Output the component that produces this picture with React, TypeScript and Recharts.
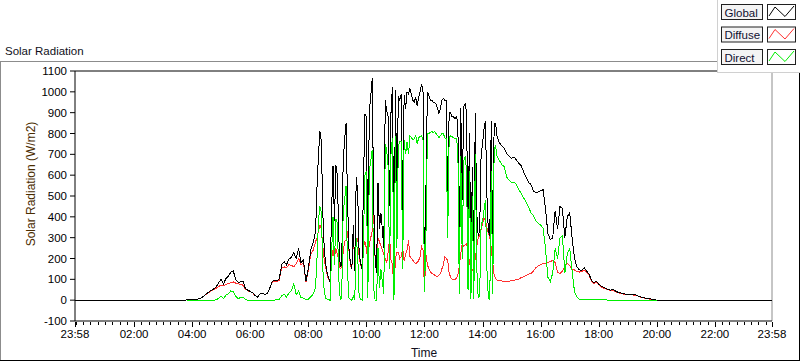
import React from "react";
import { LineChart, Line, XAxis, YAxis, ReferenceLine } from "recharts";

// ---------- data ----------
// sample times (HH:MM) of the measured day
const times: string[] = [
  // 03:45 – 08:15, 5-min
  "03:45","03:50","03:55",
  "04:00","04:05","04:10","04:15","04:20","04:25","04:30","04:35","04:40","04:45","04:50","04:55",
  "05:00","05:05","05:10","05:15","05:20","05:25","05:30","05:35","05:40","05:45","05:50","05:55",
  "06:00","06:05","06:10","06:15","06:20","06:25","06:30","06:35","06:40","06:45","06:50","06:55",
  "07:00","07:05","07:10","07:15","07:20","07:25","07:30","07:35","07:40","07:45","07:50","07:55",
  "08:00","08:05","08:10","08:15",
  // 08:18 – 14:30, 3-min
  "08:18","08:21","08:24","08:27","08:30","08:33","08:36","08:39","08:42","08:45","08:48","08:51","08:54","08:57",
  "09:00","09:03","09:06","09:09","09:12","09:15","09:18","09:21","09:24","09:27","09:30","09:33","09:36","09:39","09:42","09:45","09:48","09:51","09:54","09:57",
  "10:00","10:03","10:06","10:09","10:12","10:15","10:18","10:21","10:24","10:27","10:30","10:33","10:36","10:39","10:42","10:45","10:48","10:51","10:54","10:57",
  "11:00","11:03","11:06","11:09","11:12","11:15","11:18","11:21","11:24","11:27","11:30","11:33","11:36","11:39","11:42","11:45","11:48","11:51","11:54","11:57",
  "12:00","12:03","12:06","12:09","12:12","12:15","12:18","12:21","12:24","12:27","12:30","12:33","12:36","12:39","12:42","12:45","12:48","12:51","12:54","12:57",
  "13:00","13:03","13:06","13:09","13:12","13:15","13:18","13:21","13:24","13:27","13:30","13:33","13:36","13:39","13:42","13:45","13:48","13:51","13:54","13:57",
  "14:00","14:03","14:06","14:09","14:12","14:15","14:18","14:21","14:24","14:27","14:30",
  // 14:35 – 20:00, 5-min
  "14:35","14:40","14:45","14:50","14:55",
  "15:00","15:05","15:10","15:15","15:20","15:25","15:30","15:35","15:40","15:45","15:50","15:55",
  "16:00","16:05","16:10","16:15","16:20","16:25","16:30","16:35","16:40","16:45","16:50","16:55",
  "17:00","17:05","17:10","17:15","17:20","17:25","17:30","17:35","17:40","17:45","17:50","17:55",
  "18:00","18:05","18:10","18:15","18:20","18:25","18:30","18:35","18:40","18:45","18:50","18:55",
  "19:00","19:05","19:10","19:15","19:20","19:25","19:30","19:35","19:40","19:45","19:50","19:55",
  "20:00",
];

const globalRad: number[] = [
  0, 2, 3,
  3, 4, 5, 6, 12, 22, 32, 40, 48, 55, 65, 85,
  100, 78, 105, 115, 135, 140, 100, 85, 88, 92, 55, 48,
  42, 36, 22, 15, 30, 32, 28, 32, 55, 88, 96, 94,
  102, 170, 185, 170, 198, 205, 228, 200, 248, 180, 192, 90,
  150, 240, 275, 330,
  540, 700, 810, 760, 420, 240, 175, 130, 105, 85, 420, 645, 380, 650,
  600, 300, 160, 170, 660, 770, 850, 480, 250, 180, 150, 360, 140, 590, 520, 230, 180, 150, 560, 895,
  880, 200, 900, 980, 1064, 480, 200, 130, 560, 340, 420, 340, 250, 960, 910, 880, 450, 920, 1024, 40,
  1008, 500, 980, 960, 990, 400, 985, 920, 1000, 990, 1016, 985, 960, 952, 975, 930, 975, 1000, 1037, 1000,
  55, 520, 1000, 985, 960, 960, 950, 950, 940, 920, 896, 920, 960, 968, 960, 960, 460, 900, 900, 880,
  880, 870, 880, 850, 200, 920, 480, 930, 944, 900, 300, 800, 160, 640, 170, 900, 420, 310, 330, 700,
  750, 820, 860, 500, 330, 310, 860, 220, 850, 848, 784,
  755, 741, 730, 704, 690,
  680, 688, 672, 656, 645, 615, 590, 565, 555, 525, 515, 520,
  525, 530, 440, 320, 290, 300, 430, 340, 450, 440, 300, 400,
  420, 300, 200, 160, 145, 144, 155, 140, 125, 96, 83, 91,
  77, 67, 61, 56, 51, 48, 51, 43, 38, 35, 32, 29,
  29, 29, 27, 26, 22, 16, 14, 11, 8, 6, 5, 2,
  0,
];

const diffuseRad: (number | null)[] = [
  null, 2, 3,
  3, 4, 5, 6, 12, 21, 30, 38, 45, 52, 58, 66,
  72, 70, 75, 80, 84, 88, 82, 78, 76, 72, 52, 46,
  40, 35, 22, 15, 30, 32, 28, 32, 55, 86, 92, 90,
  96, 155, 160, 155, 170, 168, 160, 175, 200, 170, 180, 86,
  140, 220, 240, 280,
  300, 330, 360, 340, 260, 190, 160, 120, 100, 85, 200, 240, 200, 250,
  220, 190, 150, 160, 230, 280, 290, 330, 240, 170, 150, 340, 140, 280, 300, 210, 170, 150, 260, 280,
  250, 190, 270, 300, 330, 420, 200, 130, 300, 280, 260, 240, 220, 200, 180, 230, 300, 190, 170, 40,
  200, 230, 230, 200, 210, 250, 190, 220, 240, 288, 210, 200, 192, 180, 176, 180, 190, 210, 256, 240,
  50, 220, 170, 150, 136, 130, 125, 120, 115, 112, 120, 128, 150, 170, 208, 200, 190, 130, 110, 100,
  99, 100, 105, 120, 160, 224, 272, 260, 265, 272, 240, 180, 150, 144, 160, 200, 256, 300, 310, 340,
  368, 392, 385, 350, 320, 300, 250, 180, 120, 104, 96,
  96, 92, 90, 88, 90,
  95, 96, 98, 100, 110, 112, 118, 125, 128, 140, 155, 165,
  170, 176, 178, 180, 186, 190, 180, 135, 128, 140, 160, 176,
  165, 150, 145, 138, 135, 138, 145, 135, 120, 92, 80, 88,
  74, 64, 58, 53, 49, 46, 48, 41, 36, 33, 30, 28,
  27, 27, 25, 24, 21, 15, 13, 10, 7, 5, 4, 2,
  0,
];

const directRad: (number | null)[] = [
  null, 0, 0,
  0, 0, 0, 0, 0, 0, 0, 0, 0, 0, 2, 10,
  20, 8, 25, 30, 45, 40, 18, 8, 12, 15, 3, 0,
  0, 0, 0, 0, 0, 0, 0, 0, 0, 0, 0, 2,
  5, 20, 30, 15, 35, 45, 80, 25, 45, 12, 10, 2,
  5, 15, 30, 60,
  200, 380, 450, 420, 150, 40, 10, 5, 2, 0, 220, 400, 170, 390,
  370, 100, 5, 10, 420, 480, 550, 140, 10, 5, 0, 20, 0, 300, 220, 20, 5, 0, 300, 600,
  620, 10, 620, 670, 720, 60, 0, 0, 250, 60, 150, 90, 30, 750, 720, 640, 150, 720, 780, 0,
  790, 250, 740, 760, 760, 150, 770, 700, 760, 700, 790, 780, 770, 775, 790, 750, 780, 785, 790, 770,
  40, 300, 800, 800, 805, 810, 805, 810, 800, 790, 780, 790, 800, 800, 780, 775, 300, 780, 790, 785,
  780, 775, 775, 730, 30, 690, 200, 670, 690, 620, 50, 620, 5, 500, 5, 700, 160, 10, 20, 360,
  380, 430, 480, 150, 10, 5, 620, 30, 730, 740, 690,
  670, 650, 640, 590, 576,
  565, 566, 555, 530, 512, 490, 470, 448, 420, 405, 380, 368,
  360, 345, 250, 110, 90, 130, 250, 200, 300, 310, 130, 220,
  250, 140, 40, 15, 5, 3, 2, 2, 2, 2, 2, 2,
  2, 2, 2, 2, 0, 0, 0, 0, 0, 0, 0, 0,
  0, 0, 0, 0, 0, 0, 0, 0, 0, 0, 0, 0,
  0,
];

// axis: the day runs from 23:58 of the previous day to 23:58
const timeTickLabels = ["23:58", "02:00", "04:00", "06:00", "08:00", "10:00", "12:00", "14:00", "16:00", "18:00", "20:00", "22:00", "23:58"];
const radTicks = [-100, 0, 100, 200, 300, 400, 500, 600, 700, 800, 900, 1000, 1100];
const seriesNames = ["Global", "Diffuse", "Direct"];
const seriesColors = ["#000000", "#ff3030", "#00ee00"];

// ---------- helpers ----------
const DAY_START = -2; // 23:58 previous day
const DAY_END = 1438; // 23:58
const toMin = (s: string) => {
  const [h, m] = s.split(":").map(Number);
  return h * 60 + m;
};

const rows = [
  { t: DAY_START, global: 0, diffuse: null, direct: null },
  ...times.map((s, i) => ({ t: toMin(s), global: globalRad[i], diffuse: diffuseRad[i], direct: directRad[i] })),
  { t: DAY_END, global: 0, diffuse: null, direct: null },
];

const majorTicks = timeTickLabels.map((s, i) =>
  i === 0 ? DAY_START : i === timeTickLabels.length - 1 ? DAY_END : toMin(s)
);
const minorTicks: number[] = [];
for (let m = 0; m < DAY_END; m += 15) if (!majorTicks.includes(m)) minorTicks.push(m);
const allTicks = [...majorTicks, ...minorTicks].sort((a, b) => a - b);

const FONT = "'Liberation Sans', Arial, sans-serif";

const XTick = (props: any) => {
  const { x, y, payload } = props;
  const v = payload.value as number;
  const idx = majorTicks.indexOf(v);
  const major = idx >= 0;
  const px = Math.round(x) + 0.5;
  return (
    <g>
      <line x1={px} x2={px} y1={y + 1} y2={y + (major ? 6 : 4)} stroke="#000" strokeWidth={1} />
      {major && (
        <text x={x} y={y + 17} textAnchor="middle" fontSize={11.5} fontFamily={FONT} fill="#000">
          {timeTickLabels[idx]}
        </text>
      )}
    </g>
  );
};

const LegendRow = ({ i }: { i: number }) => {
  const y0 = 4 + i * 22.5;
  return (
    <g>
      <rect x={721.5} y={y0 + 0.5} width={41} height={15} fill="#f4f4f4" stroke="#202020" />
      <text x={724.5} y={y0 + 12.5} fontSize={11.5} fontFamily={FONT} fill="#101030">
        {seriesNames[i]}
      </text>
      <rect x={767.5} y={y0 + 0.5} width={28} height={15} fill="#fff" stroke="#202020" />
      <polyline
        points={`769,${y0 + 12} 775,${y0 + 3} 785,${y0 + 12.5} 794,${y0 + 2}`}
        fill="none"
        stroke={seriesColors[i]}
        strokeWidth={1}
      />
    </g>
  );
};

export default function App() {
  return (
    <div style={{ position: "absolute", left: 0, top: 0, width: 800, height: 361, background: "#fff", fontFamily: FONT }}>
      <LineChart
        width={800}
        height={361}
        data={rows}
        margin={{ top: 71, right: 28, bottom: 0, left: 0 }}
      >
        <XAxis
          dataKey="t"
          type="number"
          domain={[DAY_START, DAY_END]}
          ticks={allTicks}
          interval={0}
          height={40}
          tickLine={false}
          tickSize={0}
          tickMargin={0}
          axisLine={{ stroke: "#000" }}
          tick={<XTick />}
          allowDataOverflow
        />
        <YAxis
          type="number"
          domain={[-100, 1100]}
          ticks={radTicks}
          interval={0}
          width={75}
          tickSize={5}
          tickMargin={3}
          axisLine={{ stroke: "#000" }}
          tickLine={{ stroke: "#000" }}
          tick={{ fontSize: 11.5, fill: "#000", fontFamily: FONT }}
          allowDataOverflow
        />
        <ReferenceLine y={1100} stroke="#000" />
        <ReferenceLine x={DAY_END} stroke="#8c8c8c" />
        <Line dataKey="diffuse" name={seriesNames[1]} stroke={seriesColors[1]} strokeWidth={1} dot={false} activeDot={false} isAnimationActive={false} type="linear" shapeRendering="crispEdges" />
        <Line dataKey="global" name={seriesNames[0]} stroke={seriesColors[0]} strokeWidth={1} dot={false} activeDot={false} isAnimationActive={false} type="linear" shapeRendering="crispEdges" />
        <Line dataKey="direct" name={seriesNames[2]} stroke={seriesColors[2]} strokeWidth={1} dot={false} activeDot={false} isAnimationActive={false} type="linear" shapeRendering="crispEdges" />
      </LineChart>
      <svg width={800} height={361} style={{ position: "absolute", left: 0, top: 0, pointerEvents: "none" }}>
        {/* outer frame */}
        <line x1={0} x2={717} y1={61.5} y2={61.5} stroke="#8c8c8c" />
        <line x1={0.5} x2={0.5} y1={61} y2={361} stroke="#8c8c8c" />
        <line x1={799.5} x2={799.5} y1={61} y2={361} stroke="#000" />
        <line x1={0} x2={800} y1={360.5} y2={360.5} stroke="#000" />
        {/* title */}
        <text x={5} y={55} fontSize={11.5} fontFamily={FONT} fill="#101020">Solar Radiation</text>
        {/* axis titles */}
        <text x={424} y={357} textAnchor="middle" fontSize={12} fontFamily={FONT} fill="#101020">Time</text>
        <text
          x={0}
          y={0}
          transform="translate(35,184) rotate(-90)"
          textAnchor="middle"
          fontSize={12}
          fontFamily={FONT}
          fill="#4a2c00"
        >
          Solar Radiation (W/m2)
        </text>
        {/* legend panel */}
        <rect x={717} y={0} width={83} height={72} fill="#fff" />
        <line x1={717.5} x2={717.5} y1={0} y2={72} stroke="#d0d0d0" />
        <line x1={717} x2={800} y1={72.5} y2={72.5} stroke="#d0d0d0" />
        <LegendRow i={0} />
        <LegendRow i={1} />
        <LegendRow i={2} />
      </svg>
    </div>
  );
}
